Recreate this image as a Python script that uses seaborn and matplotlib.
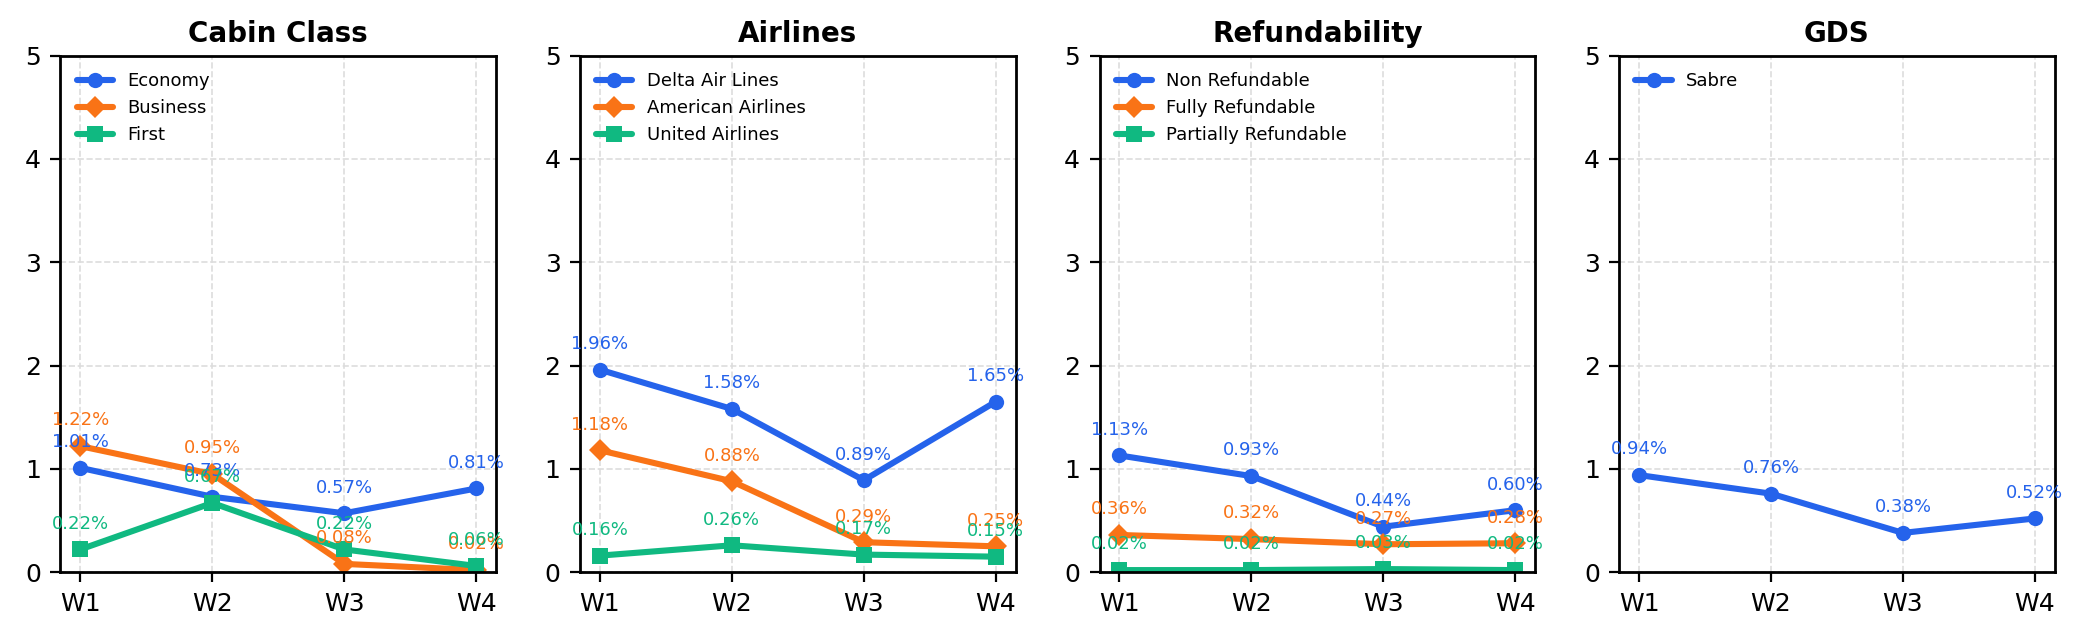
import matplotlib
matplotlib.use("Agg")
import matplotlib.pyplot as plt
import pandas as pd
import seaborn as sns

weeks = ["W1", "W2", "W3", "W4"]

cabin_names = ["Economy", "Business", "First"]
cabin_values = [
    [1.01, 0.73, 0.57, 0.81],
    [1.22, 0.95, 0.08, 0.02],
    [0.22, 0.67, 0.22, 0.06],
]

airline_names = ["Delta Air Lines", "American Airlines", "United Airlines"]
airline_values = [
    [1.96, 1.58, 0.89, 1.65],
    [1.18, 0.88, 0.29, 0.25],
    [0.16, 0.26, 0.17, 0.15],
]

refund_names = ["Non Refundable", "Fully Refundable", "Partially Refundable"]
refund_values = [
    [1.13, 0.93, 0.44, 0.60],
    [0.36, 0.32, 0.27, 0.28],
    [0.02, 0.02, 0.03, 0.02],
]

gds_names = ["Sabre"]
gds_values = [
    [0.94, 0.76, 0.38, 0.52],
]

panels = [
    ("Cabin Class", cabin_names, cabin_values),
    ("Airlines", airline_names, airline_values),
    ("Refundability", refund_names, refund_values),
    ("GDS", gds_names, gds_values),
]

COLORS = ["#2563eb", "#f97316", "#10b981"]
MARKERS = ["o", "D", "s"]

rc = {
    "text.color": "black", "axes.labelcolor": "black", "axes.edgecolor": "black",
    "xtick.color": "black", "ytick.color": "black",
}


def to_long(names, values):
    rows = []
    for name, vals in zip(names, values):
        for w, v in zip(weeks, vals):
            rows.append({"week": w, "rate": v, "series": name})
    return pd.DataFrame(rows)


def plot_panel(ax, title, names, values):
    df = to_long(names, values)
    palette = {n: COLORS[i] for i, n in enumerate(names)}
    markers = {n: MARKERS[i] for i, n in enumerate(names)}
    sns.lineplot(ax=ax, data=df, x="week", y="rate", hue="series", style="series",
                 hue_order=names, style_order=names, palette=palette, markers=markers,
                 dashes=False, lw=2.2, markersize=5.5, markeredgewidth=0, sort=False)

    for i, (name, vals) in enumerate(zip(names, values)):
        for j, v in enumerate(vals):
            ax.annotate("%.2f%%" % v, (j, v), xytext=(0, 6), textcoords="offset points",
                        ha="center", va="bottom", fontsize=6.5, color=COLORS[i])

    ax.set_ylim(0, 5)
    ax.set_yticks([0, 1, 2, 3, 4, 5])
    ax.set_xlim(-0.15, 3.15)
    ax.set_title(title, fontsize=10, fontweight="bold", pad=5)
    ax.set_xlabel("")
    ax.set_ylabel("")
    ax.tick_params(labelsize=9)
    ax.grid(True, linestyle="--", color="#dddddd", linewidth=0.6)
    ax.set_axisbelow(True)
    for sp in ax.spines.values():
        sp.set_visible(True)
        sp.set_linewidth(1.0)
    handles, labels = ax.get_legend_handles_labels()
    ax.legend(handles, labels, loc="upper left", frameon=False, fontsize=6.5)


if __name__ == "__main__":
    sns.set_style("ticks", rc=rc)
    plt.rcParams["font.family"] = ["DejaVu Sans"]
    fig, axes = plt.subplots(1, 4, figsize=(10.43, 3.2), dpi=200)
    for ax, (title, names, values) in zip(axes, panels):
        plot_panel(ax, title, names, values)
    fig.subplots_adjust(left=0.029, right=0.985, top=0.913, bottom=0.106, wspace=0.193)
    plt.savefig("out.png", dpi=200)
    plt.close()
